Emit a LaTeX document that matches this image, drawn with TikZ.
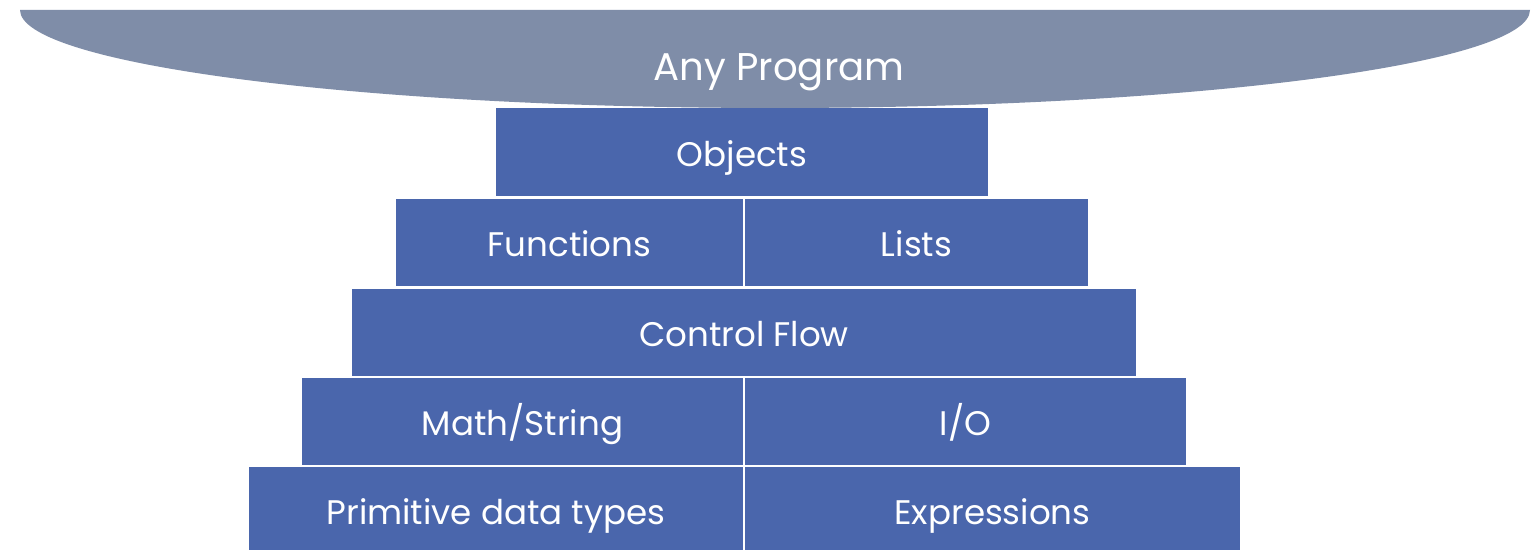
\documentclass[tikz,border=0pt]{standalone}
\usepackage{fontspec}
\setmainfont{Poppins}
\usepackage{tikz}
\usetikzlibrary{positioning}

\definecolor{capgray}{HTML}{7F8DA8}
\definecolor{layerblue}{HTML}{4A66AC}

\begin{document}
\begin{tikzpicture}[x=0.02cm, y=-0.02cm,
	layer/.style={fill=layerblue, draw=none, inner sep=0pt, text=white,
		text height=16.5pt, text depth=0pt,
		font=\fontsize{19.4}{22}\selectfont},
	captext/.style={text=white, inner sep=0pt, text height=15.5pt, text depth=0pt,
		font=\fontsize{22}{26}\selectfont}]

	% ---- frame

	\useasboundingbox (0,0) rectangle (1535,550);
	\fill[white] (0,0) rectangle (1535,550);

	% ---- cap

	\fill[capgray] (20,10) arc[start angle=180, end angle=0, x radius=755, y radius=98] -- cycle;
	\node[captext] (prog) at (779,67) {Any Program};

	% ---- layers

	\node[layer, minimum width=9.84cm, minimum height=1.76cm] (obj) at (742,152) {Objects};

	\node[layer, minimum width=6.94cm, minimum height=1.74cm] (fun) at (569.5,242.5) {Functions};
	\node[layer, minimum width=6.86cm, minimum height=1.74cm] (lst) at (916.5,242.5) {Lists};

	\node[layer, minimum width=15.68cm, minimum height=1.74cm] (ctl) at (744,332.5) {Control Flow};

	\node[layer, minimum width=8.82cm, minimum height=1.74cm] (mth) at (522.5,421.5) {Math/String};
	\node[layer, minimum width=8.82cm, minimum height=1.74cm] (io) at (965.5,421.5) {I/O};

	\node[layer, minimum width=9.88cm, minimum height=1.74cm] (prim) at (496,510.5) {Primitive data types};
	\node[layer, minimum width=9.90cm, minimum height=1.74cm] (expr) at (992.5,510.5) {Expressions};

\end{tikzpicture}
\end{document}
